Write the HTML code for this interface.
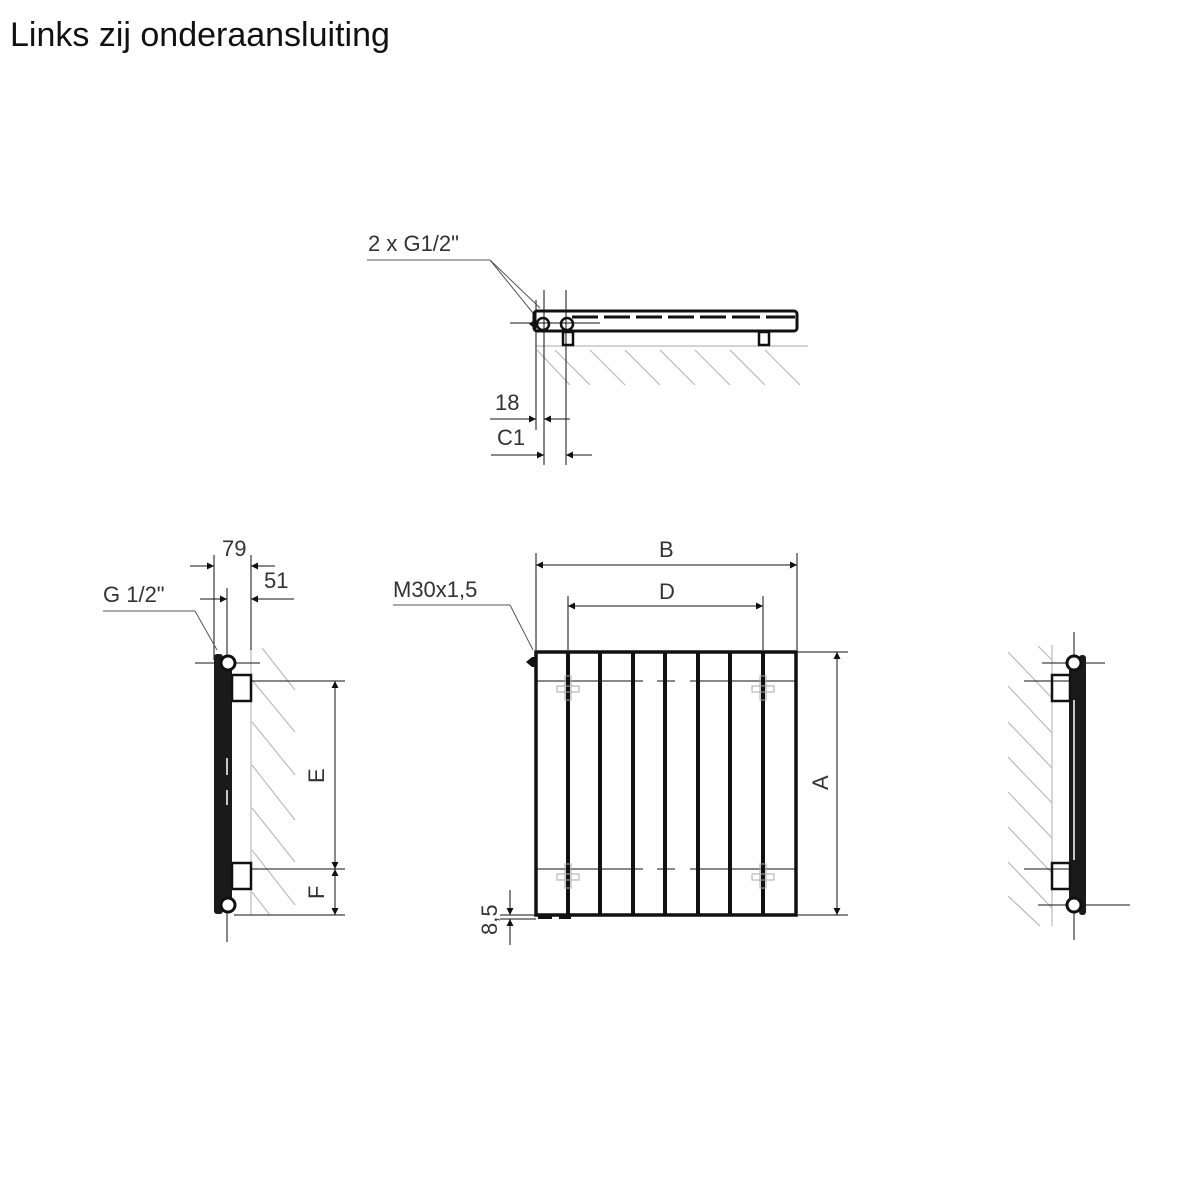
<!DOCTYPE html>
<html><head><meta charset="utf-8"><style>
html,body{margin:0;padding:0;background:#fff;}
svg{display:block;}
text{font-family:"Liberation Sans",sans-serif;fill:#333;}
</style></head><body>
<svg width="1200" height="1200" viewBox="0 0 1200 1200" xmlns="http://www.w3.org/2000/svg">
<defs>
<marker id="ar" viewBox="0 0 10 10" refX="10" refY="5" markerWidth="13" markerHeight="7" orient="auto-start-reverse" markerUnits="userSpaceOnUse"><path d="M0,0 L10,5 L0,10 z" fill="#111"/></marker>
</defs>
<text x="10" y="46" font-size="34" style="fill:#111">Links zij onderaansluiting</text>

<!-- TOP VIEW -->
<g stroke="#bbb" stroke-width="1.2">
<line x1="535" y1="346" x2="808" y2="346"/>
<line x1="555" y1="350" x2="590" y2="385"/><line x1="590" y1="350" x2="625" y2="385"/><line x1="625" y1="350" x2="660" y2="385"/><line x1="660" y1="350" x2="695" y2="385"/><line x1="695" y1="350" x2="730" y2="385"/><line x1="730" y1="350" x2="765" y2="385"/><line x1="765" y1="350" x2="800" y2="385"/><line x1="537" y1="350" x2="570" y2="385"/>
</g>
<rect x="534" y="311" width="263" height="20" rx="3" fill="none" stroke="#111" stroke-width="3"/>
<g stroke="#111" stroke-width="3">
<line x1="572" y1="317" x2="598" y2="317"/><line x1="604" y1="317" x2="630" y2="317"/><line x1="636" y1="317" x2="662" y2="317"/><line x1="668" y1="317" x2="694" y2="317"/><line x1="700" y1="317" x2="726" y2="317"/><line x1="732" y1="317" x2="760" y2="317"/><line x1="766" y1="317" x2="795" y2="317"/>
</g>
<rect x="563" y="332" width="10" height="13" fill="none" stroke="#111" stroke-width="2.5"/>
<rect x="759" y="332" width="10" height="13" fill="none" stroke="#111" stroke-width="2.5"/>
<circle cx="543" cy="324" r="6" fill="#fff" stroke="#111" stroke-width="2.5"/>
<circle cx="567" cy="324" r="6" fill="#fff" stroke="#111" stroke-width="2.5"/>
<path d="M529,324 l5,-4 v8 z" fill="#111"/>
<g stroke="#111" stroke-width="1">
<line x1="510" y1="323" x2="600" y2="323"/>
<line x1="536" y1="300" x2="536" y2="430"/>
<line x1="544" y1="290" x2="544" y2="465"/>
<line x1="566" y1="290" x2="566" y2="465"/>
<line x1="490" y1="419" x2="536" y2="419" marker-end="url(#ar)"/>
<line x1="570" y1="419" x2="544" y2="419" marker-end="url(#ar)"/>
<line x1="491" y1="455" x2="544" y2="455" marker-end="url(#ar)"/>
<line x1="592" y1="455" x2="566" y2="455" marker-end="url(#ar)"/>
</g>
<g stroke="#555" stroke-width="1">
<line x1="367" y1="260" x2="490" y2="260"/>
<line x1="490" y1="260" x2="540" y2="308"/>
<line x1="490" y1="260" x2="533" y2="313"/>
</g>
<text x="368" y="251" font-size="22">2 x G1/2"</text>
<text x="495" y="410" font-size="22">18</text>
<text x="497" y="445" font-size="22">C1</text>

<!-- FRONT VIEW -->
<g stroke="#111" stroke-width="1">
<line x1="536" y1="553" x2="536" y2="650"/><line x1="797" y1="553" x2="797" y2="650"/>
<line x1="568" y1="596" x2="568" y2="650"/><line x1="763" y1="596" x2="763" y2="650"/>
<line x1="536" y1="565" x2="797" y2="565" marker-start="url(#ar)" marker-end="url(#ar)"/>
<line x1="568" y1="606" x2="763" y2="606" marker-start="url(#ar)" marker-end="url(#ar)"/>
<line x1="797" y1="652" x2="848" y2="652"/><line x1="797" y1="915" x2="848" y2="915"/>
<line x1="837" y1="652" x2="837" y2="915" marker-start="url(#ar)" marker-end="url(#ar)"/>
<line x1="500" y1="915" x2="536" y2="915"/><line x1="500" y1="919" x2="536" y2="919"/>
<line x1="510" y1="890" x2="510" y2="915" marker-end="url(#ar)"/>
<line x1="510" y1="945" x2="510" y2="919" marker-end="url(#ar)"/>
<line x1="537" y1="681" x2="795" y2="681"/><line x1="537" y1="869" x2="795" y2="869"/>
</g>
<g stroke="#fff" stroke-width="3">
<line x1="643" y1="681" x2="657" y2="681"/><line x1="675" y1="681" x2="690" y2="681"/>
<line x1="643" y1="869" x2="657" y2="869"/><line x1="675" y1="869" x2="690" y2="869"/>
</g>
<rect x="536" y="652" width="260" height="263" fill="none" stroke="#111" stroke-width="3.5"/>
<g stroke="#111" stroke-width="4">
<line x1="568" y1="652" x2="568" y2="915"/><line x1="600" y1="652" x2="600" y2="915"/><line x1="633" y1="652" x2="633" y2="915"/><line x1="665" y1="652" x2="665" y2="915"/><line x1="698" y1="652" x2="698" y2="915"/><line x1="730" y1="652" x2="730" y2="915"/><line x1="763" y1="652" x2="763" y2="915"/>
</g>
<g fill="none" stroke="#aaa" stroke-width="1">
<rect x="557" y="686" width="22" height="6"/><rect x="565" y="676" width="6" height="24"/>
<rect x="752" y="686" width="22" height="6"/><rect x="760" y="676" width="6" height="24"/>
<rect x="557" y="874" width="22" height="6"/><rect x="565" y="864" width="6" height="24"/>
<rect x="752" y="874" width="22" height="6"/><rect x="760" y="864" width="6" height="24"/>
</g>
<path d="M526,662 l6,-5 h4 v10 h-4 z" fill="#111"/>
<rect x="538" y="915" width="14" height="4" fill="#111"/><rect x="559" y="915" width="12" height="4" fill="#111"/>
<g stroke="#555" stroke-width="1"><line x1="393" y1="605" x2="510" y2="605"/><line x1="510" y1="605" x2="533" y2="650"/></g>
<text x="393" y="597" font-size="22">M30x1,5</text>
<text x="659" y="557" font-size="22">B</text>
<text x="659" y="599" font-size="22">D</text>
<text transform="translate(828,790) rotate(-90)" font-size="22">A</text>
<text transform="translate(497,935) rotate(-90)" font-size="22">8,5</text>

<!-- LEFT SIDE VIEW -->
<g stroke="#bbb" stroke-width="1.2">
<line x1="251" y1="648" x2="251" y2="915"/>
<line x1="262" y1="648" x2="295" y2="690"/><line x1="252" y1="680" x2="295" y2="732"/><line x1="252" y1="722" x2="295" y2="775"/><line x1="252" y1="765" x2="295" y2="820"/><line x1="252" y1="808" x2="295" y2="862"/><line x1="252" y1="850" x2="295" y2="905"/><line x1="252" y1="892" x2="270" y2="915"/>
</g>
<g stroke="#111" stroke-width="1">
<line x1="214" y1="555" x2="214" y2="660"/><line x1="227" y1="588" x2="227" y2="660"/><line x1="251" y1="555" x2="251" y2="650"/>
<line x1="190" y1="566" x2="214" y2="566" marker-end="url(#ar)"/>
<line x1="275" y1="566" x2="251" y2="566" marker-end="url(#ar)"/>
<line x1="200" y1="599" x2="227" y2="599" marker-end="url(#ar)"/>
<line x1="294" y1="599" x2="251" y2="599" marker-end="url(#ar)"/>
<line x1="195" y1="663" x2="260" y2="663"/>
<line x1="227" y1="905" x2="227" y2="942"/>
<line x1="251" y1="681" x2="345" y2="681"/><line x1="251" y1="869" x2="345" y2="869"/><line x1="234" y1="915" x2="345" y2="915"/>
<line x1="335" y1="681" x2="335" y2="869" marker-start="url(#ar)" marker-end="url(#ar)"/>
<line x1="335" y1="869" x2="335" y2="915" marker-start="url(#ar)" marker-end="url(#ar)"/>
</g>
<g stroke="#555" stroke-width="1"><line x1="103" y1="611" x2="195" y2="611"/><line x1="195" y1="611" x2="217" y2="650"/></g>
<rect x="214" y="654" width="9" height="260" rx="3" fill="#1a1a1a"/>
<rect x="222" y="670" width="10" height="235" fill="#1a1a1a"/>
<rect x="232" y="675" width="19" height="26" fill="none" stroke="#111" stroke-width="2.5"/>
<rect x="232" y="863" width="19" height="26" fill="none" stroke="#111" stroke-width="2.5"/>
<circle cx="228" cy="663" r="7" fill="#fff" stroke="#111" stroke-width="3"/>
<circle cx="228" cy="905" r="7" fill="#fff" stroke="#111" stroke-width="3"/>
<g stroke="#fff" stroke-width="1.5"><line x1="227" y1="758" x2="227" y2="775"/><line x1="227" y1="790" x2="227" y2="805"/></g>
<text x="222" y="556" font-size="22">79</text>
<text x="264" y="588" font-size="22">51</text>
<text x="103" y="602" font-size="22">G 1/2"</text>
<text transform="translate(324,783) rotate(-90)" font-size="22">E</text>
<text transform="translate(324,899) rotate(-90)" font-size="22">F</text>

<!-- RIGHT SIDE VIEW -->
<g stroke="#bbb" stroke-width="1.2">
<line x1="1052" y1="645" x2="1052" y2="926"/>
<line x1="1038" y1="646" x2="1052" y2="660"/><line x1="1008" y1="652" x2="1052" y2="698"/><line x1="1008" y1="686" x2="1052" y2="733"/><line x1="1008" y1="722" x2="1052" y2="768"/><line x1="1008" y1="757" x2="1052" y2="803"/><line x1="1008" y1="792" x2="1052" y2="838"/><line x1="1008" y1="827" x2="1052" y2="873"/><line x1="1008" y1="862" x2="1052" y2="908"/><line x1="1008" y1="896" x2="1040" y2="926"/>
</g>
<g stroke="#111" stroke-width="1">
<line x1="1074" y1="632" x2="1074" y2="940"/>
<line x1="1042" y1="663" x2="1105" y2="663"/>
<line x1="1024" y1="681" x2="1070" y2="681"/>
<line x1="1024" y1="869" x2="1070" y2="869"/>
<line x1="1038" y1="905" x2="1130" y2="905"/>
</g>
<rect x="1069" y="670" width="10" height="235" fill="#1a1a1a"/>
<rect x="1079" y="655" width="7" height="260" rx="3" fill="#1a1a1a"/>
<rect x="1052" y="675" width="18" height="26" fill="none" stroke="#111" stroke-width="2.5"/>
<rect x="1052" y="863" width="18" height="26" fill="none" stroke="#111" stroke-width="2.5"/>
<circle cx="1074" cy="663" r="7" fill="#fff" stroke="#111" stroke-width="3"/>
<circle cx="1074" cy="905" r="7" fill="#fff" stroke="#111" stroke-width="3"/>
<g stroke="#fff" stroke-width="1.5"><line x1="1074" y1="700" x2="1074" y2="860"/></g>
</svg>
</body></html>
